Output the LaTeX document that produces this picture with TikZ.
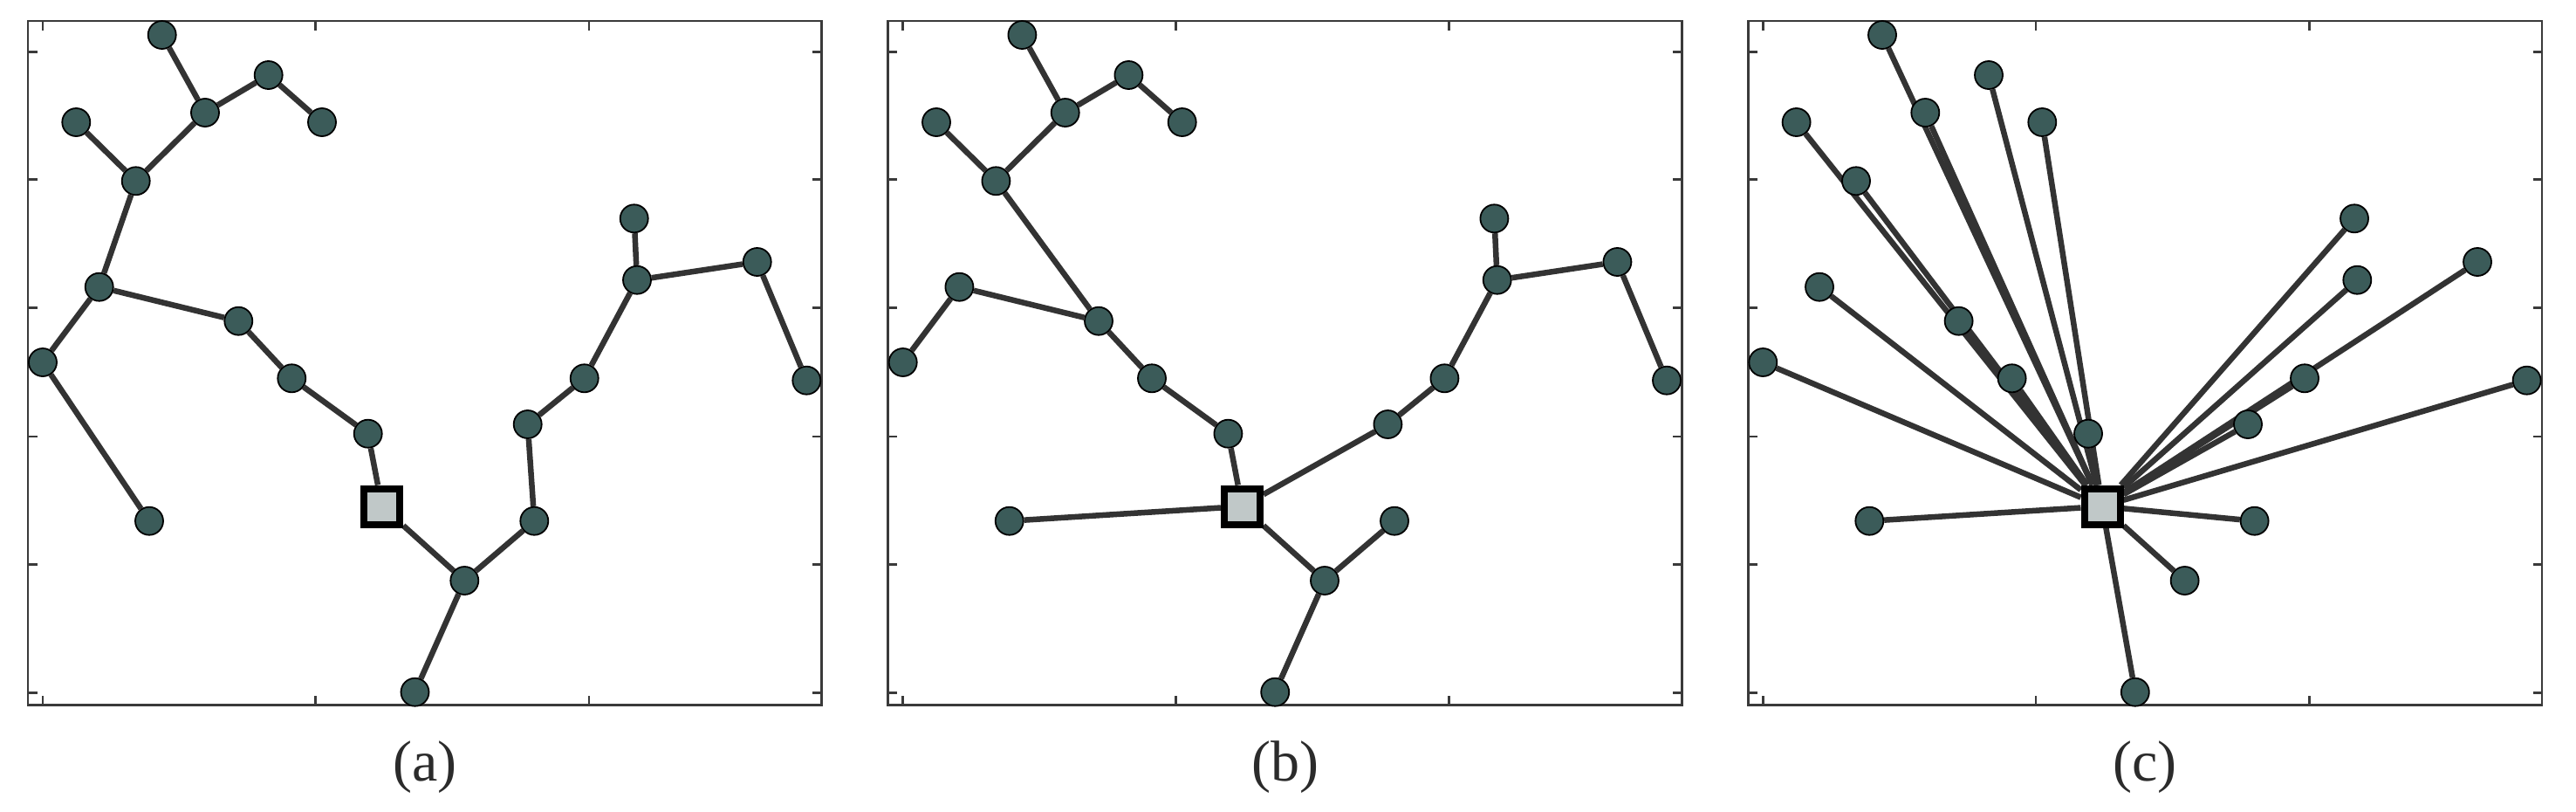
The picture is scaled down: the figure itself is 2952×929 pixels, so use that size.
\documentclass[tikz,border=0pt]{standalone}
\usepackage{fontspec}
\newfontfamily\capfont{Liberation Serif}
\usetikzlibrary{backgrounds}
\definecolor{nodefill}{HTML}{3B5B59}
\definecolor{sqfill}{HTML}{C0C8C8}
\definecolor{edgecol}{HTML}{333333}
\definecolor{framecol}{HTML}{3A3A3A}
\definecolor{captcol}{HTML}{2B2B2B}
\tikzset{
  dot/.style={circle, draw=black, line width=1.8pt, fill=nodefill, minimum size=32pt, inner sep=0pt},
  sink/.style={rectangle, draw=black, line width=8pt, fill=sqfill, minimum size=41pt, inner sep=0pt},
  link/.style={draw=edgecol, line width=6.5pt},
  axisframe/.style={draw=framecol, line width=2.5pt},
  caption/.style={font=\capfont\fontsize{66}{72}\selectfont, text=captcol, anchor=base, inner sep=0pt}
}
\newcommand\placenodes{%
  \node[dot] (n1) at (185.7,40) {};
  \node[dot] (n2) at (307.7,86) {};
  \node[dot] (n3) at (235,129) {};
  \node[dot] (n4) at (369,140) {};
  \node[dot] (n5) at (87.3,140) {};
  \node[dot] (n6) at (155.7,207.3) {};
  \node[dot] (n7) at (113.7,328.7) {};
  \node[dot] (n8) at (273.3,367.7) {};
  \node[dot] (n9) at (49,415) {};
  \node[dot] (n10) at (334.3,433.3) {};
  \node[dot] (n11) at (421.7,496.7) {};
  \node[dot] (n12) at (171,596.7) {};
  \node[dot] (n13) at (475.5,792.7) {};
  \node[dot] (n14) at (726.7,250.3) {};
  \node[dot] (n15) at (730,320.7) {};
  \node[dot] (n16) at (867.7,300) {};
  \node[dot] (n17) at (669.7,433.3) {};
  \node[dot] (n18) at (924.3,435.7) {};
  \node[dot] (n19) at (604.7,486) {};
  \node[dot] (n20) at (612.3,596.7) {};
  \node[dot] (n21) at (532.3,665) {};
  \node[sink] (sq) at (437.7,580) {};
}
\newcommand\drawframe{%
  \draw[axisframe] (32,24) rectangle (941.7,807.7);
  \foreach \xx in {49,361.7,675} {
    \draw[axisframe] (\xx,24) -- ++(0,10.5);
    \draw[axisframe] (\xx,807.7) -- ++(0,-10.5);
  }
  \foreach \yy in {59.3,205.7,352.7,500,646.3,793.3} {
    \draw[axisframe] (32,\yy) -- ++(10.5,0);
    \draw[axisframe] (941.7,\yy) -- ++(-10.5,0);
  }
}
\begin{document}
\begin{tikzpicture}[x=1pt, y=-1pt]
\useasboundingbox (0,0) rectangle (2952,929);
% panel (a)
\begin{scope}[name prefix=a-]
  \placenodes
  \begin{pgfonlayer}{background}
    \drawframe
    \foreach \p/\q in {n1/n3, n3/n2, n2/n4, n3/n6, n5/n6, n6/n7, n7/n9, n9/n12, n7/n8, n8/n10, n10/n11, n11/sq, sq/n21, n21/n13, n21/n20, n20/n19, n19/n17, n17/n15, n15/n14, n15/n16, n16/n18}
      \draw[link] (\p) -- (\q);
  \end{pgfonlayer}
  \node[caption] (capa) at (486.85,894) {(a)};
\end{scope}
% panel (b)
\begin{scope}[xshift=985.7pt, name prefix=b-]
  \placenodes
  \begin{pgfonlayer}{background}
    \drawframe
    \foreach \p/\q in {n1/n3, n3/n2, n2/n4, n3/n6, n5/n6, n6/n8, n7/n8, n7/n9, n12/sq, n8/n10, n10/n11, n11/sq, sq/n21, n21/n13, n21/n20, n19/sq, n19/n17, n17/n15, n15/n14, n15/n16, n16/n18}
      \draw[link] (\p) -- (\q);
  \end{pgfonlayer}
  \node[caption] (capb) at (486.85,894) {(b)};
\end{scope}
% panel (c)
\begin{scope}[xshift=1971.3pt, name prefix=c-]
  \placenodes
  \begin{pgfonlayer}{background}
    \drawframe
    \foreach \q in {n1,n2,n3,n4,n5,n6,n7,n8,n9,n10,n11,n12,n13,n14,n15,n16,n17,n18,n19,n20,n21}
      \draw[link] (sq) -- (\q);
  \end{pgfonlayer}
  \node[caption] (capc) at (486.85,894) {(c)};
\end{scope}
\end{tikzpicture}
\end{document}
